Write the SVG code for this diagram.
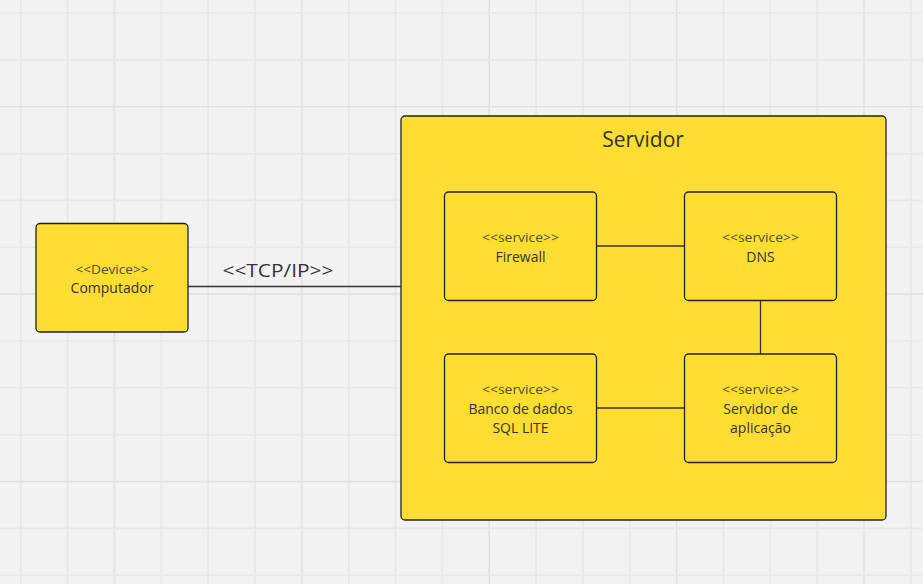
<svg xmlns="http://www.w3.org/2000/svg" width="923" height="584" viewBox="0 0 923 584">
<defs>
<style>
.bg{fill:#f2f2f2}
.g{stroke:#e7e7e7;stroke-width:1.6}
.gd{stroke:#e1e1e1;stroke-width:1.6}
.box{fill:#ffdd33;stroke:#222;stroke-width:1.3}
.con{stroke:#333;stroke-width:1.3;fill:none}
.t{font-family:"Open Sans","Noto Sans",sans-serif;fill:#333;text-anchor:middle}
.main{font-size:14px}
.st{font-size:13.5px;fill:#4a4a4a}
.title{font-size:21px}
.lbl{font-size:19px}
</style>
</defs>
<rect class="bg" x="0" y="0" width="923" height="584"/>
<g id="grid">
<path class="g" d="M20.7 0V584M67.6 0V584M161.3 0V584M208.1 0V584M255 0V584M348.7 0V584M395.5 0V584M442.4 0V584M536.1 0V584M582.9 0V584M629.8 0V584M723.5 0V584M770.3 0V584M817.2 0V584M910.9 0V584"/>
<path class="gd" d="M114.4 0V584M301.8 0V584M489.2 0V584M676.6 0V584M864 0V584"/>
<path class="g" d="M0 13H923M0 59.9H923M0 153.6H923M0 200.4H923M0 247.3H923M0 341H923M0 387.8H923M0 434.7H923M0 528.4H923M0 575.2H923"/>
<path class="gd" d="M0 106.7H923M0 294.1H923M0 481.5H923"/>
</g>
<g id="servidor">
<rect class="box" x="401" y="116" width="485" height="404" rx="4"/>
<text class="t title" x="643" y="147">Servidor</text>
</g>
<g id="connectors">
<line class="con" x1="188" y1="286.5" x2="401" y2="286.5"/>
<text class="t lbl" x="278" y="277" textLength="111" lengthAdjust="spacingAndGlyphs">&lt;&lt;TCP/IP&gt;&gt;</text>
<line class="con" x1="596" y1="246" x2="684" y2="246"/>
<line class="con" x1="760.5" y1="300" x2="760.5" y2="354"/>
<line class="con" x1="596" y1="408" x2="684" y2="408"/>
</g>
<g id="computador">
<rect class="box" x="36" y="223.5" width="152" height="108.5" rx="4"/>
<text class="t st" x="112" y="274" textLength="73" lengthAdjust="spacingAndGlyphs">&lt;&lt;Device&gt;&gt;</text>
<text class="t main" x="112" y="293">Computador</text>
</g>
<g id="firewall">
<rect class="box" x="444.5" y="192" width="152" height="108.5" rx="4"/>
<text class="t st" x="520.5" y="241.5" textLength="77" lengthAdjust="spacingAndGlyphs">&lt;&lt;service&gt;&gt;</text>
<text class="t main" x="520.5" y="261.5">Firewall</text>
</g>
<g id="dns">
<rect class="box" x="684.5" y="192" width="152" height="108.5" rx="4"/>
<text class="t st" x="760.5" y="241.5" textLength="77" lengthAdjust="spacingAndGlyphs">&lt;&lt;service&gt;&gt;</text>
<text class="t main" x="760.5" y="261.5">DNS</text>
</g>
<g id="banco">
<rect class="box" x="444.5" y="354" width="152" height="108.5" rx="4"/>
<text class="t st" x="520.5" y="393.5" textLength="77" lengthAdjust="spacingAndGlyphs">&lt;&lt;service&gt;&gt;</text>
<text class="t main" x="520.5" y="414">Banco de dados</text>
<text class="t main" x="520.5" y="433">SQL LITE</text>
</g>
<g id="aplicacao">
<rect class="box" x="684.5" y="354" width="152" height="108.5" rx="4"/>
<text class="t st" x="760.5" y="393.5" textLength="77" lengthAdjust="spacingAndGlyphs">&lt;&lt;service&gt;&gt;</text>
<text class="t main" x="760.5" y="414">Servidor de</text>
<text class="t main" x="760.5" y="433">aplicação</text>
</g>
</svg>
